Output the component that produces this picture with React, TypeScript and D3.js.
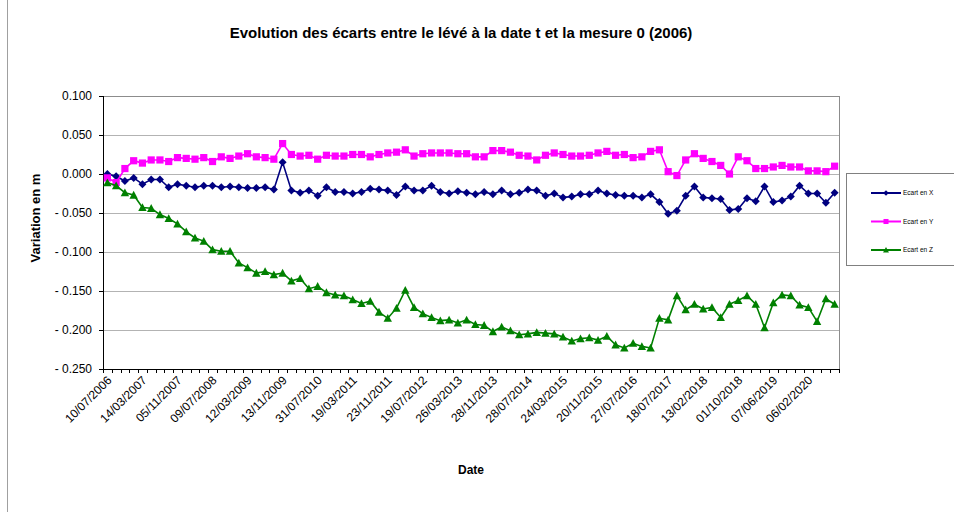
import React from "react";
import * as d3 from "d3";

const tickLabels = ["10/07/2006","14/03/2007","05/11/2007","09/07/2008","12/03/2009","13/11/2009","31/07/2010","19/03/2011","23/11/2011","19/07/2012","26/03/2013","28/11/2013","28/07/2014","24/03/2015","20/11/2015","27/07/2016","18/07/2017","13/02/2018","01/10/2018","07/06/2019","06/02/2020"];

const ecartX = [
  0.000, -0.003, -0.009, -0.005, -0.013, -0.007, -0.007, -0.017, -0.013, -0.015,
  -0.017, -0.015, -0.015, -0.017, -0.016, -0.017, -0.018, -0.018, -0.017, -0.020,
  0.015, -0.021, -0.024, -0.021, -0.028, -0.017, -0.023, -0.023, -0.025, -0.023,
  -0.019, -0.020, -0.021, -0.027, -0.016, -0.021, -0.021, -0.015, -0.023, -0.025,
  -0.022, -0.024, -0.026, -0.023, -0.026, -0.021, -0.026, -0.024, -0.020, -0.021,
  -0.028, -0.025, -0.030, -0.029, -0.026, -0.026, -0.021, -0.025, -0.027, -0.028,
  -0.028, -0.030, -0.026, -0.036, -0.051, -0.047, -0.028, -0.016, -0.030, -0.031,
  -0.032, -0.046, -0.045, -0.031, -0.035, -0.016, -0.036, -0.034, -0.029, -0.015,
  -0.025, -0.025, -0.037, -0.024
];

const ecartY = [
  -0.005, -0.011, 0.007, 0.017, 0.014, 0.018, 0.018, 0.016, 0.021, 0.020,
  0.019, 0.021, 0.016, 0.022, 0.020, 0.023, 0.026, 0.022, 0.021, 0.019,
  0.039, 0.025, 0.023, 0.024, 0.019, 0.024, 0.023, 0.023, 0.025, 0.025,
  0.022, 0.025, 0.027, 0.028, 0.031, 0.023, 0.026, 0.027, 0.027, 0.027,
  0.026, 0.026, 0.022, 0.022, 0.030, 0.030, 0.028, 0.024, 0.023, 0.018,
  0.024, 0.027, 0.025, 0.023, 0.023, 0.024, 0.027, 0.029, 0.024, 0.025,
  0.021, 0.022, 0.029, 0.031, 0.003, -0.002, 0.018, 0.026, 0.020, 0.016,
  0.011, 0.000, 0.022, 0.017, 0.007, 0.007, 0.009, 0.011, 0.009, 0.009,
  0.004, 0.004, 0.003, 0.010
];

const ecartZ = [
  -0.011, -0.015, -0.024, -0.027, -0.043, -0.044, -0.052, -0.057, -0.064, -0.074,
  -0.082, -0.086, -0.097, -0.099, -0.099, -0.114, -0.120, -0.127, -0.125, -0.129,
  -0.127, -0.137, -0.134, -0.147, -0.144, -0.152, -0.155, -0.156, -0.161, -0.166,
  -0.163, -0.177, -0.185, -0.172, -0.149, -0.171, -0.179, -0.184, -0.188, -0.187,
  -0.191, -0.187, -0.193, -0.194, -0.202, -0.196, -0.201, -0.206, -0.205, -0.203,
  -0.204, -0.205, -0.209, -0.214, -0.211, -0.210, -0.213, -0.208, -0.219, -0.223,
  -0.217, -0.221, -0.223, -0.185, -0.187, -0.156, -0.174, -0.167, -0.173, -0.171,
  -0.184, -0.167, -0.162, -0.156, -0.167, -0.197, -0.165, -0.155, -0.156, -0.168,
  -0.171, -0.189, -0.160, -0.167
];

const yTicks = [0.1, 0.05, 0, -0.05, -0.1, -0.15, -0.2, -0.25];

const seriesNames = ["Ecart en X", "Ecart en Y", "Ecart en Z"];
const seriesColors = ["#000080", "#FF00FF", "#008000"];
const seriesShapes = ["diamond", "square", "triangle"];
const seriesData = [ecartX, ecartY, ecartZ];

const W = 954, H = 512;
const left = 103, right = 839, top = 96, bottom = 369;
const FONT = "Arial, 'Liberation Sans', sans-serif";

function marker(shape: string, cx: number, cy: number, color: string, key: any, scale = 1) {
  if (shape === "diamond") {
    const r = 4 * scale;
    return <path key={key} d={`M${cx},${cy - r}L${cx + r},${cy}L${cx},${cy + r}L${cx - r},${cy}Z`} fill={color} />;
  }
  if (shape === "square") {
    const r = 3.6 * scale;
    return <rect key={key} x={cx - r} y={cy - r} width={2 * r} height={2 * r} fill={color} />;
  }
  const r = 4.2 * scale;
  return <path key={key} d={`M${cx},${cy - r}L${cx + r},${cy + r * 0.85}L${cx - r},${cy + r * 0.85}Z`} fill={color} />;
}

function fmt(v: number) {
  const a = Math.abs(v).toFixed(3);
  return v < -1e-9 ? "- " + a : a;
}

export default function App() {
  const n = ecartX.length;
  const x = d3.scaleBand<number>().domain(d3.range(n)).range([left, right]).padding(0);
  const y = d3.scaleLinear().domain([-0.25, 0.1]).range([bottom, top]);
  const cx = (i: number) => (x(i) as number) + x.bandwidth() / 2;
  const line = d3.line<number>().x((_, i) => cx(i)).y((d) => y(d));
  const tickIdx = d3.range(0, n + 1);

  return (
    <svg width={W} height={H} style={{ position: "absolute", left: 0, top: 0, background: "#fff" }} fontFamily={FONT}>
      <line x1={7.5} y1={0} x2={7.5} y2={512} stroke="#a0a0a0" />
      <text x={461} y={38} textAnchor="middle" fontSize={15} fontWeight="bold">
        Evolution des écarts entre le lévé à la date t et la mesure 0 (2006)
      </text>
      {/* grid */}
      {yTicks.map((t) => (
        <line key={"g" + t} x1={left} x2={right} y1={Math.round(y(t)) + 0.5} y2={Math.round(y(t)) + 0.5} stroke="#b3b3b3" />
      ))}
      <line x1={left} x2={right} y1={top + 0.5} y2={top + 0.5} stroke="#8c8c8c" />
      <line x1={right + 0.5} x2={right + 0.5} y1={top} y2={bottom} stroke="#8c8c8c" />
      {/* axes */}
      <line x1={left + 0.5} x2={left + 0.5} y1={top} y2={bottom + 1} stroke="#000" />
      <line x1={left} x2={right + 1} y1={bottom + 0.5} y2={bottom + 0.5} stroke="#000" />
      {yTicks.map((t) => (
        <g key={"yt" + t}>
          <line x1={left - 4} x2={left} y1={Math.round(y(t)) + 0.5} y2={Math.round(y(t)) + 0.5} stroke="#000" />
          <text x={92} y={y(t) + 4} textAnchor="end" fontSize={12}>{fmt(t)}</text>
        </g>
      ))}
      {tickIdx.map((i) => {
        const px = i < n ? (x(i) as number) : right;
        return <line key={"xt" + i} x1={Math.round(px) + 0.5} x2={Math.round(px) + 0.5} y1={bottom} y2={bottom + 4} stroke="#000" />;
      })}
      {tickLabels.map((lab, k) => {
        const i = k * 4;
        const px = cx(i) + 5;
        const py = bottom + 12;
        return (
          <text key={"xl" + k} x={px} y={py} textAnchor="end" fontSize={12} transform={`rotate(-45 ${px} ${py})`}>
            {lab}
          </text>
        );
      })}
      <text x={471} y={474} textAnchor="middle" fontSize={12} fontWeight="bold">Date</text>
      <text transform={`translate(40 218) rotate(-90)`} textAnchor="middle" fontSize={13} fontWeight="bold">Variation en m</text>
      {/* series */}
      {seriesData.map((data, s) => (
        <g key={"s" + s}>
          <path d={line(data) || ""} fill="none" stroke={seriesColors[s]} strokeWidth={1.6} />
          {data.map((v, i) => marker(seriesShapes[s], cx(i), y(v), seriesColors[s], i))}
        </g>
      ))}
      {/* legend */}
      <rect x={846.5} y={173.5} width={120} height={92} fill="#fff" stroke="#808080" />
      {seriesNames.map((nm, s) => {
        const ly = 193 + s * 28.5;
        return (
          <g key={"lg" + s}>
            <line x1={871} x2={901} y1={ly} y2={ly} stroke={seriesColors[s]} strokeWidth={2} />
            {marker(seriesShapes[s], 886, ly, seriesColors[s], "m", 0.7)}
            <text x={903} y={ly + 2} fontSize={6.5}>{nm}</text>
          </g>
        );
      })}
    </svg>
  );
}
